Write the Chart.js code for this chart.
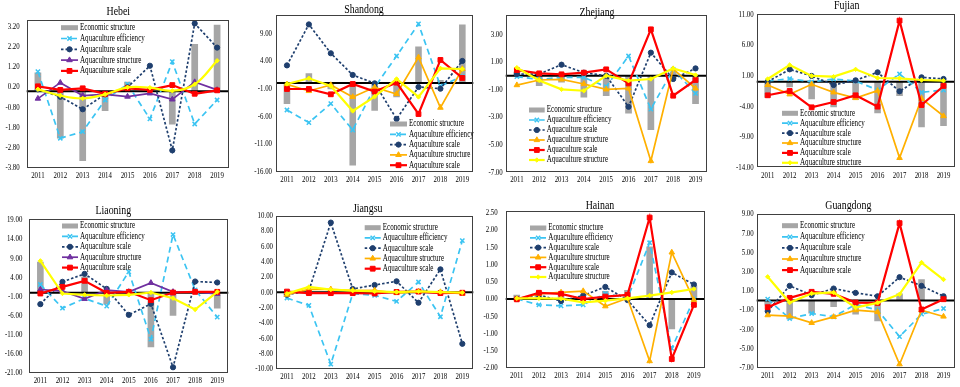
<!DOCTYPE html>
<html lang="en">
<head>
<meta charset="UTF-8">
<title>Aquaculture decomposition by province</title>
<script src="https://cdn.jsdelivr.net/npm/chart.js@4.4.1/dist/chart.umd.min.js"></script>
<style>
    body { margin: 0; background: #fff; width: 960px; height: 387px; position: relative; overflow: hidden; }
    canvas { position: absolute; }
</style>
</head>
<body>
<canvas id="hebei" width="240" height="195"></canvas>
<canvas id="shandong" width="240" height="195"></canvas>
<canvas id="zhejiang" width="240" height="195"></canvas>
<canvas id="fujian" width="240" height="195"></canvas>
<canvas id="liaoning" width="240" height="192"></canvas>
<canvas id="jiangsu" width="240" height="192"></canvas>
<canvas id="hainan" width="240" height="192"></canvas>
<canvas id="guangdong" width="240" height="192"></canvas>
<script>
// Anos do eixo x
const anos = ['2011', '2012', '2013', '2014', '2015', '2016', '2017', '2018', '2019'];

// Nomes das séries, na ordem em que aparecem na legenda
const nomesSeries = ['Economic structure', 'Aquaculture efficiency', 'Aquaculture scale',
    'Aquaculture structure', 'Aquaculture scale', 'Aquaculture structure'];

// Marcas do eixo y de cada província
const ticksHebei = [3.2, 2.2, 1.2, 0.2, -0.8, -1.8, -2.8, -3.8];
const ticksShandong = [9, 4, -1, -6, -11, -16];
const ticksZhejiang = [3, 1, -1, -3, -5, -7];
const ticksFujian = [11, 6, 1, -4, -9, -14];
const ticksLiaoning = [19, 14, 9, 4, -1, -6, -11, -16, -21];
const ticksJiangsu = [10, 8, 6, 4, 2, 0, -2, -4, -6, -8, -10];
const ticksHainan = [2.5, 2, 1.5, 1, 0.5, 0, -0.5, -1, -1.5, -2];
const ticksGuangdong = [9, 7, 5, 3, 1, -1, -3, -5, -7];

// Hebei
const hebeiEstrutura = [0.92, -2.35, -3.47, -0.99, 0.47, 0.05, -1.65, 2.34, 3.30];
const hebeiEficiencia = [0.97, -2.34, -2.01, -0.44, 0.35, -1.38, 1.46, -1.63, -0.44];
const hebeiEscala = [0.09, -0.28, -0.90, -0.16, 0.19, 1.26, -2.94, 3.36, 2.16];
const hebeiEstruturaAq = [-0.37, 0.42, -0.22, -0.16, -0.27, -0.11, -0.41, 0.45, 0.06];
const hebeiEscala2 = [0.24, 0.06, 0.14, -0.13, 0.14, 0.06, 0.30, -0.13, 0.04];
const hebeiEstruturaAq2 = [0.09, -0.22, -0.36, -0.16, 0.19, 0.17, 0.02, 0.34, 1.51];

// Shandong
const shandongEstrutura = [-3.77, 1.77, -1.10, -14.9, -4.98, -2.57, 6.59, 0.57, 10.6];
const shandongEficiencia = [-4.86, -7.13, -3.71, -8.47, -0.76, 4.90, 10.69, -0.52, 1.20];
const shandongEscala = [3.20, 10.6, 5.39, 1.47, -0.04, -6.47, -0.70, -1.00, 4.00];
const shandongEstruturaAq = [-0.22, -1.42, -0.34, -2.50, -0.76, -1.96, 4.66, -4.43, 2.55];
const shandongEscala2 = [-1.06, -1.06, -2.02, -0.16, -1.54, 0.08, -5.58, 4.18, 0.93];
const shandongEstruturaAq2 = [-0.16, 0.87, -0.52, -5.03, -2.45, 0.75, -2.50, 2.67, 2.55];

// Zhejiang
const zhejiangEstrutura = [0.29, -0.75, -0.50, -1.57, -1.47, -2.73, -3.94, 0.30, -2.05];
const zhejiangEficiencia = [-0.07, -0.27, -0.12, -0.12, -0.80, 1.43, -2.42, 0.46, -1.28];
const zhejiangEscala = [0.12, 0.12, 0.80, 0.22, 0.00, -2.25, 1.67, -0.24, 0.53];
const zhejiangEstruturaAq = [-0.68, -0.31, -0.27, -0.60, -0.99, -0.92, -6.18, 0.48, -0.92];
const zhejiangEscala2 = [0.41, 0.17, 0.10, 0.22, 0.46, -0.56, 3.36, -1.45, -0.31];
const zhejiangEstruturaAq2 = [0.58, -0.34, -0.99, -1.09, 0.00, -0.36, -0.24, 0.53, 0.05];

// Fujian
const fujianEstrutura = [-2.59, -0.90, -2.86, -4.16, -2.97, -5.14, -2.32, -7.40, -7.20];
const fujianEficiencia = [0.13, 0.50, 0.00, 0.46, 0.13, -1.34, 1.27, -1.72, -1.34];
const fujianEscala = [0.00, 2.03, 0.95, -0.52, 0.24, 1.54, -1.55, 0.73, 0.46];
const fujianEstruturaAq = [-0.52, -2.04, -0.41, -1.72, -2.64, -1.45, -12.4, -2.75, -5.58];
const fujianEscala2 = [-2.20, -1.50, -4.16, -3.29, -2.20, -4.05, 9.97, -3.78, -0.68];
const fujianEstruturaAq2 = [0.46, 2.74, 0.95, 0.84, 2.03, 0.62, 0.57, 0.29, 0.18];

// Liaoning
const liaoningEstrutura = [8.06, 0.30, 4.20, -3.10, -0.50, -14.3, -6.06, -0.40, -4.14];
const liaoningEficiencia = [2.13, -4.05, -1.52, -3.53, 5.45, -12.15, 15.2, 0.74, -6.40];
const liaoningEscala = [-3.00, 2.83, 4.92, 1.00, -5.80, -2.92, -19.5, 2.92, 2.66];
const liaoningEstruturaAq = [0.83, 0.39, -1.61, 0.65, 0.22, 2.57, 0.22, 0.22, -0.30];
const liaoningEscala2 = [-0.22, 1.52, 3.10, -0.04, 0.22, -1.96, 0.04, 0.22, 0.22];
const liaoningEstruturaAq2 = [8.32, -0.22, -0.57, -0.74, -0.57, 0.04, -1.44, -4.40, 0.22];

// Jiangsu
const jiangsuEstrutura = [-0.60, -0.30, 0.10, 0.10, 0.30, 0.05, 0.10, 0.05, -0.10];
const jiangsuEficiencia = [-0.74, -1.70, -9.37, -0.17, -0.39, -1.18, 1.35, -3.18, 6.75];
const jiangsuEscala = [-0.30, 0.22, 9.10, 0.44, 0.96, 1.44, -1.35, 3.00, -6.71];
const jiangsuEstruturaAq = [-0.30, 0.40, 0.40, 0.22, 0.26, -0.09, 0.09, 0.04, -0.17];
const jiangsuEscala2 = [0.10, -0.10, -0.10, -0.10, -0.15, 0.05, 0.10, -0.10, -0.05];
const jiangsuEstruturaAq2 = [-0.17, 0.70, 0.35, 0.22, 0.13, 0.04, 0.13, 0.04, -0.04];

// Hainan
const hainanEstrutura = [0.12, 0.21, 0.12, 0.05, 0.23, 0.26, 1.52, -0.88, 0.39];
const hainanEficiencia = [0.00, -0.17, -0.20, -0.17, 0.16, 0.02, 1.63, -1.43, 0.00];
const hainanEscala = [0.00, 0.12, -0.06, 0.10, 0.35, -0.03, -0.76, 0.77, 0.42];
const hainanEstruturaAq = [0.00, 0.15, 0.19, 0.23, -0.21, 0.02, -1.80, 1.35, -0.03];
const hainanEscala2 = [-0.01, 0.18, 0.15, 0.00, 0.07, 0.12, 2.36, -1.74, -0.17];
const hainanEstruturaAq2 = [0.02, 0.02, 0.01, -0.10, -0.05, 0.02, 0.10, 0.19, 0.29];

// Guangdong
const guangdongEstrutura = [-0.49, -1.95, -1.36, -0.67, -1.47, -2.16, 0.72, 2.22, 0.37];
const guangdongEficiencia = [0.13, -1.88, -1.36, -1.70, -0.42, -1.01, -3.76, -1.43, -0.84];
const guangdongEscala = [-1.12, 1.52, 0.55, 1.24, 0.79, 0.44, 2.42, 1.52, 0.44];
const guangdongEstruturaAq = [-1.53, -1.64, -2.33, -1.71, -1.01, -1.19, -6.64, -1.01, -1.67];
const guangdongEscala2 = [-0.70, 0.27, 0.90, 0.69, -0.22, -0.25, 8.05, -0.94, 0.13];
const guangdongEstruturaAq2 = [2.46, -0.22, 0.72, 0.83, -0.74, -0.25, 0.65, 3.95, 2.18];

// Escreve texto um pouco "apertado" na horizontal, como na figura original
function textoEstreito(ctx, texto, x, y, tamanho, alinhamento) {
    ctx.save();
    ctx.translate(x, y);
    ctx.scale(0.76, 1);
    ctx.font = tamanho + 'px "Liberation Serif", "Times New Roman", serif';
    ctx.textAlign = alinhamento;
    ctx.textBaseline = 'middle';
    ctx.fillStyle = '#000';
    ctx.fillText(texto, 0, 0);
    ctx.restore();
}

// Plugin que desenha moldura, linha do zero, rótulos, título e legenda
function criarPlugin(cfg) {
    return {
        id: 'painel',
        afterDatasetDraw(chart, args) {
            // linha do zero logo depois das barras (dataset 0)
            if (args.index !== 0) return;
            const { ctx, chartArea: a } = chart;
            const y0 = chart.scales.y.getPixelForValue(0);
            ctx.save();
            ctx.strokeStyle = '#000';
            ctx.lineWidth = 2;
            ctx.beginPath();
            ctx.moveTo(a.left, y0);
            ctx.lineTo(a.right, y0);
            ctx.stroke();
            ctx.restore();
        },
        afterDraw(chart) {
            const { ctx, chartArea: a } = chart;

            // moldura
            ctx.save();
            ctx.strokeStyle = '#404040';
            ctx.lineWidth = 1;
            ctx.strokeRect(Math.round(a.left) + 0.5, Math.round(a.top) + 0.5, Math.round(a.width) - 1, Math.round(a.height) - 1);
            ctx.restore();

            // rótulos do eixo y
            cfg.ticks.forEach(v => {
                textoEstreito(ctx, v.toFixed(2), a.left - cfg.folgaY, chart.scales.y.getPixelForValue(v), 9, 'right');
            });

            // rótulos do eixo x
            anos.forEach((ano, i) => {
                textoEstreito(ctx, ano, chart.scales.x.getPixelForValue(i), a.bottom + 7.5, 9, 'center');
            });

            // título
            textoEstreito(ctx, cfg.titulo, cfg.tituloX - cfg.ox, cfg.tituloY - cfg.oy, 13, 'center');

            // legenda dentro da área do gráfico
            const leg = cfg.legenda;
            const larg = leg.tx - leg.sx - 2;
            const x0 = leg.sx - cfg.ox;
            chart.data.datasets.slice(0, leg.n).forEach((d, i) => {
                const y = leg.y - cfg.oy + i * leg.passo;
                ctx.save();
                if (d.type === 'bar') {
                    ctx.fillStyle = d.backgroundColor;
                    ctx.fillRect(x0, y - 2.5, larg, 5);
                } else {
                    ctx.strokeStyle = d.borderColor;
                    ctx.lineWidth = d.borderWidth;
                    ctx.setLineDash(d.borderDash || []);
                    ctx.beginPath();
                    ctx.moveTo(x0, y);
                    ctx.lineTo(x0 + larg, y);
                    ctx.stroke();
                    ctx.setLineDash([]);
                    ctx.fillStyle = d.borderColor;
                    ctx.lineWidth = d.pointBorderWidth;
                    Chart.helpers.drawPoint(ctx, {
                        pointStyle: d.pointStyle, radius: d.pointRadius, rotation: 0, borderWidth: d.pointBorderWidth
                    }, x0 + larg / 2, y);
                }
                ctx.restore();
                textoEstreito(ctx, d.label, leg.tx - cfg.ox, y, 9.3, 'left');
            });
        }
    };
}

// Monta as seis séries de um painel
function montarSeries(cfg) {
    const corEstrutura = cfg.roxo ? '#7030A0' : '#FFB000';
    const linha = (i, cor, extra) => Object.assign({
        type: 'line',
        label: nomesSeries[i],
        data: cfg.dados[i],
        borderColor: cor,
        backgroundColor: cor,
        pointBackgroundColor: cor,
        pointBorderColor: cor,
        borderWidth: 1.7,
        pointBorderWidth: 1,
        fill: false,
        tension: 0
    }, extra);

    return [
        { type: 'bar', label: nomesSeries[0], data: cfg.dados[0], backgroundColor: '#A6A6A6',
          barPercentage: 0.3, categoryPercentage: 1, order: 10 },
        linha(1, '#3BC4F2', { borderDash: [6, 4], pointStyle: 'crossRot', pointRadius: 3, pointBorderWidth: 1.5, order: 5 }),
        linha(2, '#1F3F6E', { borderDash: [2.5, 2], pointStyle: 'circle', pointRadius: 2.6, order: 4 }),
        linha(3, corEstrutura, { pointStyle: 'triangle', pointRadius: 3.2, order: 3 }),
        linha(4, '#FF0000', { pointStyle: 'rect', pointRadius: 3.4, borderWidth: 2.2, order: 2 }),
        linha(5, '#FFFF00', { pointStyle: 'rectRot', pointRadius: 2.2, borderWidth: 2.2, order: 1, tension: cfg.suave ? 0.4 : 0 })
    ];
}

function criarPainel(cfg) {
    const [l, t, r, b] = cfg.quadro;
    const canvas = document.getElementById(cfg.id);
    canvas.style.left = cfg.ox + 'px';
    canvas.style.top = cfg.oy + 'px';

    new Chart(canvas.getContext('2d'), {
        type: 'bar',
        data: { labels: anos, datasets: montarSeries(cfg) },
        options: {
            responsive: false,
            animation: false,
            events: [],
            layout: {
                padding: { left: l - cfg.ox, top: t - cfg.oy, right: cfg.ox + canvas.width - r, bottom: cfg.oy + canvas.height - b }
            },
            plugins: { legend: { display: false }, title: { display: false }, tooltip: { enabled: false } },
            scales: {
                x: { display: false, offset: true },
                y: { display: false, min: cfg.min, max: cfg.max }
            }
        },
        plugins: [criarPlugin(cfg)]
    });
}

const paineis = [
    { id: 'hebei', titulo: 'Hebei', ox: 0, oy: 0, quadro: [26.7, 20, 228.3, 167.7], min: -3.8, max: 3.53,
      ticks: ticksHebei, folgaY: 7, tituloX: 118.3, tituloY: 11.7, roxo: true, suave: true,
      legenda: { sx: 61, tx: 80, y: 27.7, passo: 10.8, n: 5 },
      dados: [hebeiEstrutura, hebeiEficiencia, hebeiEscala, hebeiEstruturaAq, hebeiEscala2, hebeiEstruturaAq2] },
    { id: 'shandong', titulo: 'Shandong', ox: 240, oy: 0, quadro: [276, 15, 473.3, 171.7], min: -16, max: 12.3,
      ticks: ticksShandong, folgaY: 4, tituloX: 364, tituloY: 10,
      legenda: { sx: 390, tx: 409, y: 124, passo: 10.3, n: 5 },
      dados: [shandongEstrutura, shandongEficiencia, shandongEscala, shandongEstruturaAq, shandongEscala2, shandongEstruturaAq2] },
    { id: 'zhejiang', titulo: 'Zhejiang', ox: 480, oy: 0, quadro: [505.7, 15, 706.7, 172.3], min: -7, max: 4.4,
      ticks: ticksZhejiang, folgaY: 3, tituloX: 597, tituloY: 12.7,
      legenda: { sx: 529, tx: 546.7, y: 110, passo: 10, n: 6 },
      dados: [zhejiangEstrutura, zhejiangEficiencia, zhejiangEscala, zhejiangEstruturaAq, zhejiangEscala2, zhejiangEstruturaAq2] },
    { id: 'fujian', titulo: 'Fujian', ox: 720, oy: 0, quadro: [756.7, 14.3, 955, 167.7], min: -14, max: 11,
      ticks: ticksFujian, folgaY: 3, tituloX: 846.7, tituloY: 5.5,
      legenda: { sx: 782, tx: 800, y: 113.3, passo: 9.9, n: 6 },
      dados: [fujianEstrutura, fujianEficiencia, fujianEscala, fujianEstruturaAq, fujianEscala2, fujianEstruturaAq2] },
    { id: 'liaoning', titulo: 'Liaoning', ox: 0, oy: 195, quadro: [29.3, 219, 228.3, 373], min: -21, max: 19.26,
      ticks: ticksLiaoning, folgaY: 7, tituloX: 113.3, tituloY: 211, roxo: true,
      legenda: { sx: 62, tx: 80, y: 226, passo: 10.4, n: 5 },
      dados: [liaoningEstrutura, liaoningEficiencia, liaoningEscala, liaoningEstruturaAq, liaoningEscala2, liaoningEstruturaAq2] },
    { id: 'jiangsu', titulo: 'Jiangsu', ox: 240, oy: 195, quadro: [276, 215.7, 473.3, 369], min: -10, max: 10,
      ticks: ticksJiangsu, folgaY: 3, tituloX: 367.7, tituloY: 208.3,
      legenda: { sx: 364.7, tx: 382.7, y: 227.7, passo: 10.25, n: 5 },
      dados: [jiangsuEstrutura, jiangsuEficiencia, jiangsuEscala, jiangsuEstruturaAq, jiangsuEscala2, jiangsuEstruturaAq2] },
    { id: 'hainan', titulo: 'Hainan', ox: 480, oy: 195, quadro: [505.7, 211, 705, 368], min: -2, max: 2.55,
      ticks: ticksHainan, folgaY: 8, tituloX: 600, tituloY: 205.7,
      legenda: { sx: 530, tx: 548.3, y: 228, passo: 9.8, n: 6 },
      dados: [hainanEstrutura, hainanEficiencia, hainanEscala, hainanEstruturaAq, hainanEscala2, hainanEstruturaAq2] },
    { id: 'guangdong', titulo: 'Guangdong', ox: 720, oy: 195, quadro: [756.7, 214, 955.3, 367.7], min: -7, max: 9,
      ticks: ticksGuangdong, folgaY: 3, tituloX: 848.3, tituloY: 206,
      legenda: { sx: 782, tx: 800, y: 225.7, passo: 11.1, n: 5 },
      dados: [guangdongEstrutura, guangdongEficiencia, guangdongEscala, guangdongEstruturaAq, guangdongEscala2, guangdongEstruturaAq2] }
];

paineis.forEach(criarPainel);
</script>
</body>
</html>
